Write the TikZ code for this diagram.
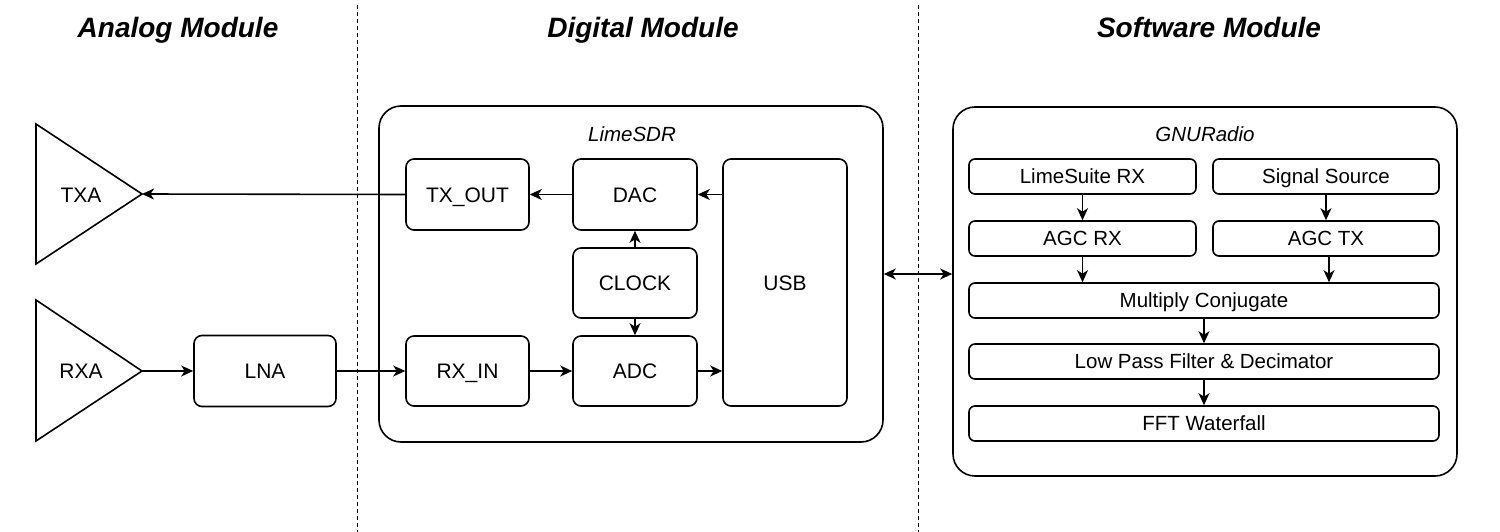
\documentclass[tikz,border=0pt]{standalone}
\usepackage{fontspec}
\setmainfont{Liberation Sans}
\usetikzlibrary{arrows.meta}
\begin{document}
\begin{tikzpicture}[x=1pt,y=-1pt,
  lw/.style={line width=1.6pt},
  bigtxt/.style={font=\fontsize{21}{24}\selectfont, text height=15pt, text depth=0pt},
  smalltxt/.style={font=\fontsize{20.5}{23}\selectfont, text height=14.7pt, text depth=0pt},
  box/.style={draw, lw, bigtxt, rounded corners=8pt, inner sep=0pt},
  gbox/.style={draw, lw, smalltxt, rounded corners=6pt, inner sep=0pt, minimum height=35pt},
  container/.style={draw, lw, rounded corners=22pt, inner sep=0pt},
  title/.style={font=\fontsize{28}{32}\selectfont\bfseries\itshape, text height=20pt, text depth=0pt},
  sub/.style={smalltxt, font=\fontsize{20.5}{23}\selectfont\itshape},
  tipk/.tip={Stealth[length=12pt,width=11pt,inset=3.5pt]},
  arr/.style={lw, -{tipk}},
  divider/.style={line width=1pt, dash pattern=on 4pt off 3pt}
]
\useasboundingbox (0,0) rectangle (1500,532);

% dividers
\draw[divider] (357,5) -- (357,532);
\draw[divider] (918,5) -- (918,532);

% titles
\node[title] (tana) at (178,28) {Analog Module};
\node[title] (tdig) at (643,28) {Digital Module};
\node[title] (tsw) at (1209,28) {Software Module};

% analog module
\draw[lw] (36,124) -- (36,264) -- (142,194) -- cycle;
\coordinate (txatip) at (142,194);
\node[bigtxt] (txa) at (81,195) {TXA};
\draw[lw] (36,300) -- (36,441) -- (142,371) -- cycle;
\coordinate (rxatip) at (142,371);
\node[bigtxt] (rxa) at (81,371) {RXA};
\node[box, minimum width=142pt, minimum height=71pt] (lna) at (265,371) {LNA};

% digital module
\node[container, minimum width=504pt, minimum height=336pt] (lime) at (631,274) {};
\node[sub] (limelabel) at (632,134) {LimeSDR};
\node[box, minimum width=123pt, minimum height=71pt] (txout) at (467.5,194.5) {TX\_OUT};
\node[box, minimum width=124pt, minimum height=71pt] (dac) at (635,194.5) {DAC};
\node[box, minimum width=124pt, minimum height=70pt] (clock) at (635,283) {CLOCK};
\node[box, minimum width=123pt, minimum height=70pt] (rxin) at (467.5,371) {RX\_IN};
\node[box, minimum width=124pt, minimum height=70pt] (adc) at (635,371) {ADC};
\node[box, minimum width=124pt, minimum height=247pt] (usb) at (785,282.5) {USB};

% software module
\node[container, minimum width=504pt, minimum height=369pt] (gnu) at (1205,291.5) {};
\node[sub] (gnulabel) at (1205,134) {GNURadio};
\node[gbox, minimum width=227pt] (lsrx) at (1082.5,176.5) {LimeSuite RX};
\node[gbox, minimum width=226pt] (sigsrc) at (1326,176.5) {Signal Source};
\node[gbox, minimum width=227pt] (agcrx) at (1082.5,238.5) {AGC RX};
\node[gbox, minimum width=226pt] (agctx) at (1326,238.5) {AGC TX};
\node[gbox, minimum width=470pt] (mult) at (1204,300.5) {Multiply Conjugate};
\node[gbox, minimum width=470pt] (lpf) at (1204,361.5) {Low Pass Filter \& Decimator};
\node[gbox, minimum width=470pt] (fft) at (1204,423.5) {FFT Waterfall};

% connectors
\draw[arr] (txout.west) -- (txatip);
\draw[arr] (rxatip) -- (lna.west);
\draw[arr] (lna.east) -- (rxin.west);
\draw[arr] (dac.west) -- (txout.east);
\draw[arr] (usb.west |- dac.east) -- (dac.east);
\draw[arr] (clock.north) -- (dac.south);
\draw[arr] (clock.south) -- (adc.north);
\draw[arr] (rxin.east) -- (adc.west);
\draw[arr] (adc.east) -- (usb.west |- adc.east);
\draw[lw, {tipk}-{tipk}] (lime.east) -- (lime.east -| gnu.west);
\draw[arr] (lsrx.south) -- (agcrx.north);
\draw[arr] (sigsrc.south) -- (agctx.north);
\draw[arr] (agcrx.south) -- (agcrx.south |- mult.north);
\draw[arr] ([xshift=3pt]agctx.south) -- ([xshift=3pt]agctx.south |- mult.north);
\draw[arr] (mult.south) -- (lpf.north);
\draw[arr] (lpf.south) -- (fft.north);
\end{tikzpicture}
\end{document}
